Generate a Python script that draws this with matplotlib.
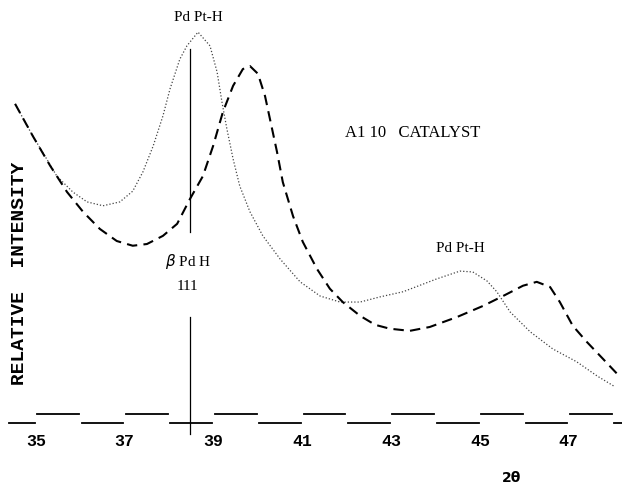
import matplotlib
matplotlib.use("Agg")
import matplotlib.pyplot as plt

# 2-theta (deg) and relative intensity
tt_dotted = [34.53, 34.93, 35.20, 35.47, 35.83, 36.15, 36.51, 36.89, 37.18, 37.41,
             37.64, 37.86, 38.02, 38.24, 38.40, 38.65, 38.92, 39.08, 39.19, 39.30,
             39.44, 39.59, 39.82, 40.11, 40.50, 40.95, 41.40, 41.85, 42.30, 42.75,
             43.27, 44.03, 44.55, 44.84, 45.16, 45.38, 45.68, 46.13, 46.64, 47.18,
             47.64, 48.04]
int_dotted = [75.6, 68.1, 63.5, 58.8, 55.1, 52.8, 51.9, 52.8, 55.3, 59.8,
              65.8, 72.8, 79.1, 86.0, 89.1, 92.3, 89.1, 83.0, 76.0, 69.8,
              62.8, 56.5, 50.5, 44.9, 39.5, 34.2, 30.9, 29.5, 29.5, 30.7,
              31.9, 34.9, 36.7, 36.5, 34.4, 31.9, 27.2, 22.6, 18.6, 15.6,
              12.3, 9.8]

tt_dashed = [34.53, 34.93, 35.32, 35.70, 36.06, 36.44, 36.82, 37.18, 37.50, 37.86,
             38.18, 38.47, 38.76, 38.99, 39.21, 39.44, 39.66, 39.82, 40.00, 40.16,
             40.27, 40.43, 40.56, 40.79, 41.01, 41.33, 41.62, 41.91, 42.30, 42.64,
             42.97, 43.42, 43.87, 44.48, 45.07, 45.52, 45.97, 46.28, 46.58, 46.80,
             47.09, 47.41, 47.77, 48.09]
int_dashed = [75.6, 68.1, 61.2, 55.1, 50.5, 46.5, 43.7, 42.6, 43.0, 44.9,
              47.7, 53.5, 58.8, 65.8, 73.7, 79.8, 83.7, 84.4, 82.6, 77.4,
              72.1, 64.4, 57.4, 49.5, 43.5, 37.2, 32.6, 29.5, 26.3, 24.2,
              23.3, 22.8, 23.7, 26.0, 28.6, 30.9, 33.3, 34.2, 33.0, 29.5,
              24.0, 20.2, 16.3, 12.8]

# chart-recorder degree marker along the bottom
marker_edges = [34.37, 35, 36, 37, 38, 39, 40, 41, 42, 43, 44, 45, 46, 47, 48, 48.3]
marker_level = [1.4, 3.5, 1.4, 3.5, 1.4, 3.5, 1.4, 3.5, 1.4, 3.5, 1.4, 3.5, 1.4, 3.5, 1.4]

tick_vals = [35, 37, 39, 41, 43, 45, 47]

pdh_pos = 38.47

fig = plt.figure(figsize=(6.22, 4.89), dpi=100)
ax = fig.add_axes([0, 0.1104, 1, 0.8896])

ax.plot(tt_dotted, int_dotted, color="#444444", lw=0.9, ls=(0, (1, 1.6)))
ax.plot(tt_dashed, int_dashed, color="black", lw=1.5, ls=(0, (5, 3)))

for i in range(len(marker_level)):
    ax.plot([marker_edges[i] + 0.03, marker_edges[i + 1] - 0.03],
            [marker_level[i], marker_level[i]], color="black", lw=1.3)

ax.plot([pdh_pos, pdh_pos], [88.4, 45.8], color="black", lw=0.9)
ax.plot([pdh_pos, pdh_pos], [26.0, -1.2], color="black", lw=0.9, clip_on=False)

serif = "Liberation Serif"
ax.text(38.65, 96.0, "Pd Pt-H", family=serif, fontsize=11, ha="center", va="center")
ax.text(44.57, 42.3, "Pd Pt-H", family=serif, fontsize=11, ha="center", va="center")
ax.text(38.42, 39.1, r"$\beta$ Pd H", family=serif, fontsize=11, ha="center", va="center")
ax.text(38.42, 33.3, "111", family=serif, fontsize=11, ha="center", va="center")
ax.text(41.95, 69.0, "A1 10   CATALYST", family=serif, fontsize=12, ha="left", va="center")

ax.text(34.62, 36.3, "RELATIVE  INTENSITY", family="Liberation Mono", fontweight="bold",
        fontsize=14, rotation=90, ha="center", va="center")

ax.set_xlim(34.19, 48.2)
ax.set_ylim(-1.2, 100)
ax.set_xticks(tick_vals)
ax.set_xticklabels([str(v) for v in tick_vals], family="Liberation Mono",
                   fontweight="bold", fontsize=12)
ax.tick_params(axis="x", length=0, pad=-1)
ax.set_yticks([])
for s in ax.spines.values():
    s.set_visible(False)

fig.text(512 / 622, 1 - 478 / 489, "2θ", family="DejaVu Sans",
         fontweight="bold", fontsize=10, ha="center", va="center")

fig.savefig("out.png", dpi=100)
